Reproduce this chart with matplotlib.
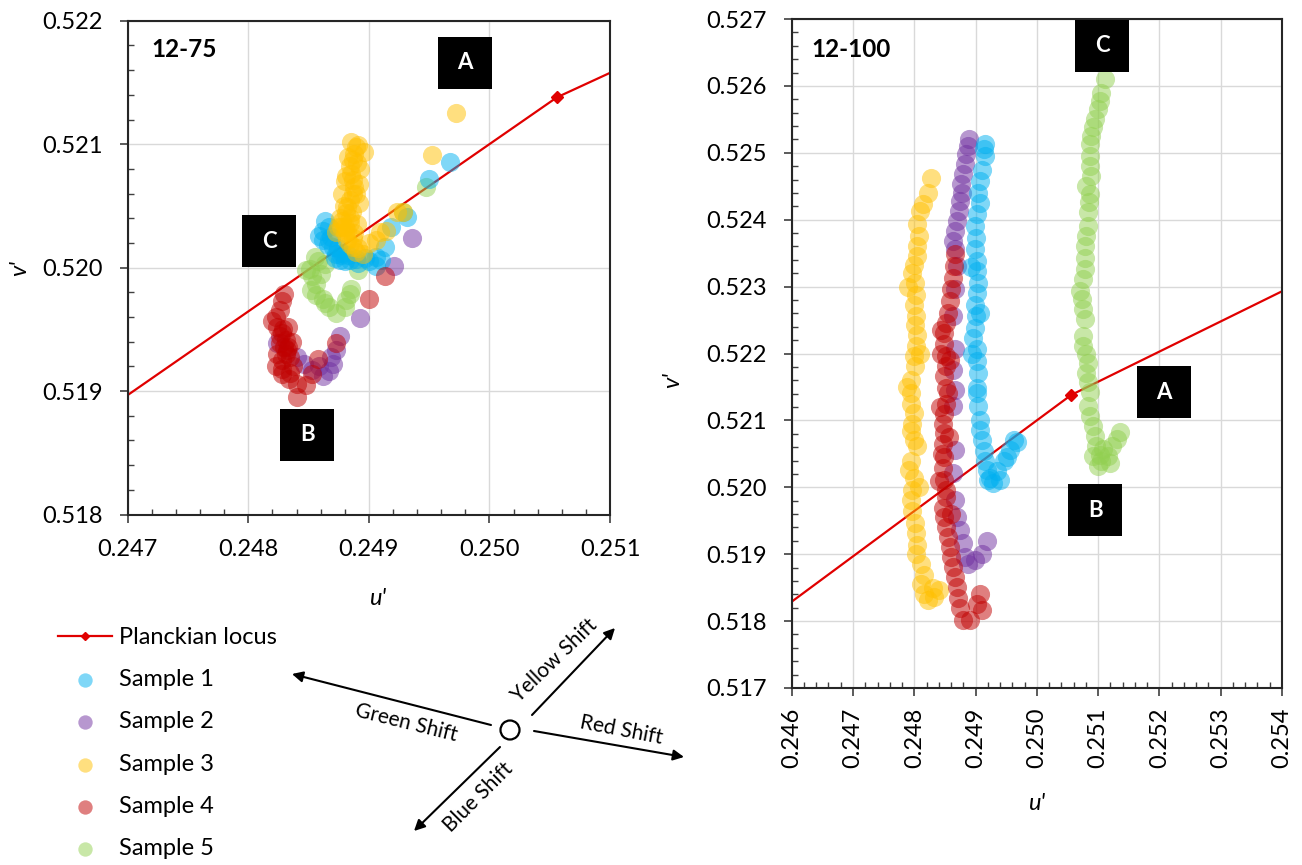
import matplotlib.pyplot as plt
from matplotlib.patches import Rectangle, Ellipse
from matplotlib.ticker import MultipleLocator, FormatStrFormatter

# --------------------------------------------------------------
# data (u', v')
# --------------------------------------------------------------
# Planckian locus (polyline, marker only on the middle point)
locus_u = [0.2460, 0.25056, 0.2540]
locus_v = [0.51829, 0.52138, 0.52293]

# ---- panel 12-75 ----
s1_75_u = [0.24864, 0.24862, 0.24859, 0.24867, 0.24869, 0.24870, 0.24873, 0.24876, 0.24880,
           0.24884, 0.24889, 0.24900, 0.24906, 0.24910, 0.24913, 0.24874, 0.24877, 0.24867,
           0.24906, 0.24918, 0.24932, 0.24950, 0.24967, 0.24872, 0.24878, 0.24883, 0.24866,
           0.24862, 0.24891, 0.24897]
s1_75_v = [0.52038, 0.52030, 0.52026, 0.52033, 0.52025, 0.52017, 0.52011, 0.52006, 0.52005,
           0.52006, 0.52007, 0.52005, 0.52001, 0.52006, 0.52017, 0.52016, 0.52010, 0.52022,
           0.52009, 0.52033, 0.52041, 0.52072, 0.52086, 0.52008, 0.52012, 0.52010, 0.52018,
           0.52022, 0.52004, 0.52008]

s2_75_u = [0.24824, 0.24840, 0.24846, 0.24853, 0.24862, 0.24867, 0.24870, 0.24869, 0.24873,
           0.24876, 0.24893, 0.24921, 0.24936, 0.24859]
s2_75_v = [0.51939, 0.51928, 0.51922, 0.51917, 0.51912, 0.51916, 0.51922, 0.51928, 0.51933,
           0.51945, 0.51959, 0.52001, 0.52024, 0.51920]

s3_75_u = [0.24873, 0.24877, 0.24880, 0.24882, 0.24887, 0.24889, 0.24895, 0.24900, 0.24906,
           0.24909, 0.24914, 0.24923, 0.24928, 0.24878, 0.24881, 0.24882, 0.24884, 0.24887,
           0.24888, 0.24887, 0.24885, 0.24884, 0.24887, 0.24888, 0.24889, 0.24885, 0.24891,
           0.24896, 0.24893, 0.24892, 0.24892, 0.24881, 0.24878, 0.24880, 0.24884, 0.24888,
           0.24952, 0.24972, 0.24883, 0.24890, 0.24880, 0.24889, 0.24879, 0.24886, 0.24876,
           0.24884, 0.24890, 0.24874, 0.24882, 0.24887, 0.24884, 0.24891]
s3_75_v = [0.52029, 0.52033, 0.52028, 0.52022, 0.52017, 0.52013, 0.52011, 0.52020, 0.52022,
           0.52029, 0.52030, 0.52045, 0.52045, 0.52038, 0.52044, 0.52049, 0.52055, 0.52060,
           0.52065, 0.52071, 0.52076, 0.52082, 0.52087, 0.52092, 0.52098, 0.52102, 0.52099,
           0.52094, 0.52080, 0.52068, 0.52052, 0.52074, 0.52060, 0.52033, 0.52036, 0.52028,
           0.52091, 0.52125, 0.52090, 0.52085, 0.52070, 0.52060, 0.52050, 0.52045, 0.52040,
           0.52040, 0.52035, 0.52033, 0.52030, 0.52024, 0.52019, 0.52016]

s4_75_u = [0.24830, 0.24828, 0.24826, 0.24823, 0.24820, 0.24824, 0.24828, 0.24831, 0.24833,
           0.24831, 0.24828, 0.24823, 0.24828, 0.24834, 0.24840, 0.24840, 0.24848, 0.24853,
           0.24858, 0.24873, 0.24900, 0.24913, 0.24830, 0.24835, 0.24837, 0.24826, 0.24833,
           0.24826, 0.24832, 0.24828, 0.24835, 0.24824, 0.24829, 0.24836]
s4_75_v = [0.51979, 0.51973, 0.51966, 0.51960, 0.51957, 0.51952, 0.51947, 0.51941, 0.51936,
           0.51930, 0.51925, 0.51920, 0.51914, 0.51910, 0.51906, 0.51895, 0.51905, 0.51914,
           0.51926, 0.51939, 0.51975, 0.51993, 0.51936, 0.51928, 0.51920, 0.51939, 0.51952,
           0.51945, 0.51933, 0.51918, 0.51915, 0.51930, 0.51950, 0.51940]

s5_75_u = [0.24855, 0.24858, 0.24851, 0.24848, 0.24853, 0.24856, 0.24852, 0.24856, 0.24862,
           0.24864, 0.24867, 0.24873, 0.24880, 0.24881, 0.24884, 0.24885, 0.24860, 0.24864,
           0.24891, 0.24928, 0.24947]
s5_75_v = [0.52009, 0.52005, 0.51999, 0.51998, 0.51993, 0.51987, 0.51982, 0.51978, 0.51975,
           0.51971, 0.51968, 0.51963, 0.51968, 0.51974, 0.51979, 0.51983, 0.51995, 0.52003,
           0.51998, 0.52045, 0.52065]

# ---- panel 12-100 ----
s1_100_u = [0.24916, 0.24913, 0.24915, 0.24910, 0.24907, 0.24904, 0.24907, 0.24902, 0.24899,
            0.24900, 0.24899, 0.24902, 0.24902, 0.24904, 0.24902, 0.24899, 0.24900, 0.24899,
            0.24896, 0.24902, 0.24902, 0.24904, 0.24902, 0.24902, 0.24904, 0.24907, 0.24907,
            0.24910, 0.24913, 0.24915, 0.24918, 0.24924, 0.24935, 0.24946, 0.24957, 0.24962,
            0.24940, 0.24929, 0.24951, 0.24921, 0.24967, 0.24893, 0.24908, 0.24895]
s1_100_v = [0.52513, 0.52505, 0.52495, 0.52475, 0.52458, 0.52440, 0.52425, 0.52408, 0.52390,
            0.52373, 0.52356, 0.52338, 0.52323, 0.52306, 0.52291, 0.52273, 0.52256, 0.52238,
            0.52223, 0.52206, 0.52189, 0.52171, 0.52149, 0.52141, 0.52121, 0.52101, 0.52086,
            0.52071, 0.52054, 0.52039, 0.52026, 0.52014, 0.52024, 0.52039, 0.52056, 0.52071,
            0.52011, 0.52006, 0.52046, 0.52011, 0.52068, 0.52330, 0.52260, 0.52200]

s2_100_u = [0.24889, 0.24887, 0.24885, 0.24882, 0.24880, 0.24877, 0.24878, 0.24874, 0.24873,
            0.24869, 0.24867, 0.24863, 0.24866, 0.24869, 0.24866, 0.24863, 0.24866, 0.24863,
            0.24866, 0.24863, 0.24866, 0.24863, 0.24866, 0.24869, 0.24874, 0.24880, 0.24882,
            0.24888, 0.24899, 0.24910, 0.24918]
s2_100_v = [0.52521, 0.52510, 0.52498, 0.52483, 0.52468, 0.52453, 0.52440, 0.52428, 0.52413,
            0.52398, 0.52383, 0.52368, 0.52356, 0.52331, 0.52296, 0.52256, 0.52206, 0.52176,
            0.52146, 0.52121, 0.52056, 0.52021, 0.51981, 0.51956, 0.51936, 0.51916, 0.51896,
            0.51886, 0.51891, 0.51901, 0.51919]

s3_100_u = [0.24827, 0.24822, 0.24815, 0.24810, 0.24805, 0.24808, 0.24804, 0.24805, 0.24800,
            0.24797, 0.24801, 0.24803, 0.24800, 0.24803, 0.24801, 0.24805, 0.24803, 0.24800,
            0.24801, 0.24795, 0.24795, 0.24795, 0.24800, 0.24797, 0.24795, 0.24800, 0.24805,
            0.24795, 0.24792, 0.24800, 0.24797, 0.24795, 0.24797, 0.24801, 0.24803, 0.24805,
            0.24803, 0.24811, 0.24816, 0.24811, 0.24816, 0.24822, 0.24833, 0.24841, 0.24830,
            0.24790, 0.24810, 0.24788, 0.24808]
s3_100_v = [0.52463, 0.52440, 0.52423, 0.52413, 0.52393, 0.52375, 0.52360, 0.52346, 0.52333,
            0.52321, 0.52306, 0.52288, 0.52273, 0.52256, 0.52243, 0.52228, 0.52211, 0.52196,
            0.52181, 0.52161, 0.52141, 0.52124, 0.52111, 0.52094, 0.52084, 0.52071, 0.52061,
            0.52039, 0.52026, 0.52014, 0.51996, 0.51981, 0.51964, 0.51946, 0.51931, 0.51914,
            0.51901, 0.51886, 0.51869, 0.51856, 0.51841, 0.51831, 0.51836, 0.51846, 0.51849,
            0.52300, 0.52200, 0.52150, 0.52000]

s4_100_u = [0.24866, 0.24865, 0.24863, 0.24860, 0.24858, 0.24855, 0.24852, 0.24849, 0.24848,
            0.24851, 0.24852, 0.24849, 0.24852, 0.24855, 0.24852, 0.24849, 0.24847, 0.24849,
            0.24847, 0.24849, 0.24847, 0.24849, 0.24852, 0.24847, 0.24849, 0.24852, 0.24855,
            0.24858, 0.24860, 0.24863, 0.24866, 0.24869, 0.24871, 0.24874, 0.24880, 0.24891,
            0.24902, 0.24907, 0.24910, 0.24844, 0.24845, 0.24852, 0.24843, 0.24858, 0.24842,
            0.24856, 0.24841, 0.24860]
s4_100_v = [0.52348, 0.52331, 0.52313, 0.52296, 0.52278, 0.52261, 0.52246, 0.52231, 0.52214,
            0.52196, 0.52181, 0.52166, 0.52149, 0.52141, 0.52124, 0.52109, 0.52094, 0.52081,
            0.52064, 0.52046, 0.52029, 0.52011, 0.51996, 0.51969, 0.51956, 0.51941, 0.51926,
            0.51911, 0.51896, 0.51881, 0.51866, 0.51851, 0.51834, 0.51819, 0.51801, 0.51801,
            0.51826, 0.51841, 0.51816, 0.52200, 0.52050, 0.51985, 0.52235, 0.52190, 0.52120,
            0.52075, 0.52010, 0.51960]

s5_100_u = [0.25111, 0.25105, 0.25103, 0.25100, 0.25095, 0.25092, 0.25089, 0.25086, 0.25086,
            0.25086, 0.25089, 0.25081, 0.25086, 0.25085, 0.25084, 0.25084, 0.25081, 0.25078,
            0.25078, 0.25078, 0.25076, 0.25070, 0.25074, 0.25076, 0.25078, 0.25076, 0.25076,
            0.25081, 0.25084, 0.25081, 0.25084, 0.25086, 0.25084, 0.25086, 0.25092, 0.25095,
            0.25097, 0.25103, 0.25105, 0.25100, 0.25116, 0.25122, 0.25135, 0.25092, 0.25108,
            0.25119, 0.25130]
s5_100_v = [0.52611, 0.52590, 0.52578, 0.52565, 0.52550, 0.52538, 0.52525, 0.52513, 0.52495,
            0.52480, 0.52465, 0.52451, 0.52438, 0.52426, 0.52411, 0.52391, 0.52376, 0.52361,
            0.52343, 0.52326, 0.52311, 0.52294, 0.52281, 0.52266, 0.52251, 0.52226, 0.52211,
            0.52199, 0.52186, 0.52171, 0.52157, 0.52142, 0.52122, 0.52107, 0.52092, 0.52077,
            0.52062, 0.52049, 0.52039, 0.52032, 0.52047, 0.52062, 0.52082, 0.52047, 0.52057,
            0.52037, 0.52072]

sample_names = ["Sample 1", "Sample 2", "Sample 3", "Sample 4", "Sample 5"]
sample_colors = ["#00B0F0", "#7030A0", "#FFC000", "#C00000", "#92D050"]

panel_75 = [(s1_75_u, s1_75_v), (s2_75_u, s2_75_v), (s3_75_u, s3_75_v),
            (s4_75_u, s4_75_v), (s5_75_u, s5_75_v)]
panel_100 = [(s1_100_u, s1_100_v), (s2_100_u, s2_100_v), (s3_100_u, s3_100_v),
             (s4_100_u, s4_100_v), (s5_100_u, s5_100_v)]

# --------------------------------------------------------------
# figure
# --------------------------------------------------------------
plt.rcParams["font.family"] = ["Lato", "DejaVu Sans"]
W, H = 1302, 865
fig = plt.figure(figsize=(W / 100, H / 100), dpi=100)

ax1 = fig.add_axes([127.7 / W, 1 - 514.5 / H, 482.3 / W, 493.7 / H])
ax2 = fig.add_axes([791.7 / W, 1 - 688 / H, 490.3 / W, 669 / H])

draw_order = [4, 1, 0, 2, 3]   # green at the back, red on top
handles = {}


def draw_panel(ax, series):
    ax.plot(locus_u, locus_v, color="#E00000", lw=1.6, marker="D", ms=6,
            markevery=[1], zorder=2, label="Planckian locus")
    for i in draw_order:
        u, v = series[i]
        h = ax.scatter(u, v, s=190, color=sample_colors[i], alpha=0.5,
                       linewidths=0, zorder=3, label=sample_names[i])
        handles[i] = h
    ax.grid(True, which="major", color="#d9d9d9", lw=1, zorder=0)
    ax.set_axisbelow(True)
    ax.xaxis.set_major_formatter(FormatStrFormatter("%.3f"))
    ax.yaxis.set_major_formatter(FormatStrFormatter("%.3f"))
    ax.xaxis.set_minor_locator(MultipleLocator(0.0002))
    ax.yaxis.set_minor_locator(MultipleLocator(0.0002))
    ax.tick_params(which="major", direction="out", length=6, width=1.2,
                   labelsize=17, pad=12, color="#404040")
    ax.tick_params(which="minor", direction="in", length=4.5, width=1,
                   color="#404040")
    for sp in ax.spines.values():
        sp.set_linewidth(1.5)
        sp.set_color("#262626")


def tag(ax, xc, yc, letter, w_px=54, h_px=52):
    bb = ax.get_position()
    w = w_px / (bb.width * W)
    h = h_px / (bb.height * H)
    ax.add_patch(Rectangle((xc - w / 2, yc - h / 2), w, h, transform=ax.transAxes,
                           facecolor="black", edgecolor="none", zorder=5, clip_on=False))
    ax.text(xc, yc, letter, transform=ax.transAxes, ha="center", va="center",
            color="white", fontsize=16, fontweight="bold", zorder=6)


# ---- left panel 12-75 ----
draw_panel(ax1, panel_75)
ax1.set_xlim(0.247, 0.251)
ax1.set_ylim(0.518, 0.522)
ax1.xaxis.set_major_locator(MultipleLocator(0.001))
ax1.yaxis.set_major_locator(MultipleLocator(0.001))
ax1.set_xlabel("u'", fontsize=17, style="italic")
ax1.set_ylabel("v'", fontsize=17, style="italic")
ax1.xaxis.set_label_coords(0.519, -0.149)
ax1.yaxis.set_label_coords(-0.203, 0.5)
ax1.text(0.05, 0.942, "12-75", transform=ax1.transAxes, fontsize=17.5,
         fontweight="bold", va="center", ha="left")
tag(ax1, 0.700, 0.915, "A")
tag(ax1, 0.294, 0.553, "C")
tag(ax1, 0.372, 0.162, "B")

# ---- right panel 12-100 ----
draw_panel(ax2, panel_100)
ax2.set_xlim(0.246, 0.254)
ax2.set_ylim(0.517, 0.527)
ax2.xaxis.set_major_locator(MultipleLocator(0.001))
ax2.yaxis.set_major_locator(MultipleLocator(0.001))
ax2.tick_params(axis="x", which="major", labelrotation=90, pad=8)
ax2.set_xlabel("u'", fontsize=17, style="italic")
ax2.set_ylabel("v'", fontsize=17, style="italic")
ax2.xaxis.set_label_coords(0.50, -0.157)
ax2.yaxis.set_label_coords(-0.222, 0.46)
ax2.text(0.041, 0.955, "12-100", transform=ax2.transAxes, fontsize=17.5,
         fontweight="bold", va="center", ha="left")
tag(ax2, 0.633, 0.960, "C")
tag(ax2, 0.760, 0.442, "A")
tag(ax2, 0.619, 0.266, "B")

# ---- legend below left panel ----
locus_handle = ax1.get_lines()[0]
leg_handles = [locus_handle] + [handles[i] for i in range(5)]
leg_labels = ["Planckian locus"] + sample_names
fig.legend(leg_handles, leg_labels, loc="upper left",
           bbox_to_anchor=(58 / W, 1 - 627 / H), frameon=False, fontsize=17,
           handlelength=2.3, handletextpad=0.3, labelspacing=0.9,
           borderpad=0, borderaxespad=0, markerscale=0.75)

# ---- shift direction sketch ----
def fp(x, y):
    return (x / W, 1 - y / H)


fig.patches.append(Ellipse(fp(510, 730), 19 / W, 19 / H, transform=fig.transFigure,
                           facecolor="white", edgecolor="black", lw=1.6))
arrows = [((532, 715), (615, 628)), ((491, 725), (292, 674)),
          ((534, 731), (684, 757)), ((500, 747), (414, 831))]
for (x0, y0), (x1, y1) in arrows:
    fig.add_artist(plt.Annotation("", xy=fp(x1, y1), xytext=fp(x0, y0),
                                  xycoords="figure fraction", textcoords="figure fraction",
                                  arrowprops=dict(arrowstyle="-|>", color="black", lw=1.5,
                                                  mutation_scale=16, shrinkA=0, shrinkB=0)))
shift_txt = [("Yellow Shift", 554, 660, 44), ("Green Shift", 406, 723, -14),
             ("Red Shift", 621, 730, -11), ("Blue Shift", 478, 797, 45)]
for t, x, y, rot in shift_txt:
    fig.text(*fp(x, y), t, rotation=rot, ha="center", va="center", fontsize=15,
             rotation_mode="anchor")

fig.savefig("out.png", dpi=100)
